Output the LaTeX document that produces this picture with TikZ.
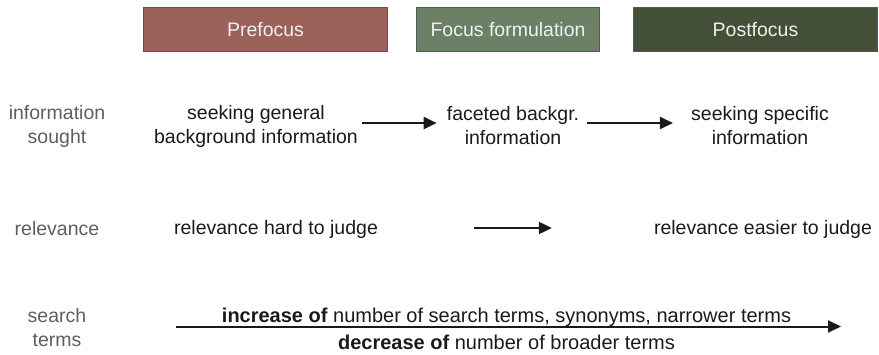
\documentclass[tikz,border=0pt]{standalone}
\usepackage{fontspec}
\setmainfont{Liberation Sans}
\usetikzlibrary{arrows.meta}
\definecolor{preC}{HTML}{9A6259}
\definecolor{focC}{HTML}{6B8065}
\definecolor{postC}{HTML}{434F37}
\definecolor{edgeC}{HTML}{52575E}
\definecolor{labC}{HTML}{5A5F66}
\definecolor{txtC}{HTML}{1A1A1A}
\tikzset{
  phase/.style={draw=edgeC, line width=1.8pt, minimum height=44pt, inner sep=0pt,
    text=white!94!black, font=\fontsize{19.5}{23}\selectfont},
  rowlab/.style={text=labC, align=center, inner sep=0pt, font=\fontsize{19.5}{23.5}\selectfont},
  item/.style={text=txtC, align=center, inner sep=0pt, font=\fontsize{19.5}{24}\selectfont},
  arr/.style={draw=txtC, line width=2pt, -{Triangle[length=13pt,width=12pt]}}
}
\begin{document}
\begin{tikzpicture}[x=1pt,y=-1pt]
\useasboundingbox (0,0) rectangle (879,354);
% phase headers
\node[phase, fill=preC, minimum width=244pt] (pre) at (265.5,29.5) {Prefocus};
\node[phase, fill=focC, minimum width=183pt] (foc) at (508,29.5) {Focus formulation};
\node[phase, fill=postC, minimum width=244pt] (post) at (755.5,29.5) {Postfocus};
% row labels
\node[rowlab] (lab1) at (57,126.5) {information\\sought};
\node[rowlab] (lab2) at (57,229) {relevance};
\node[rowlab] (lab3) at (57,327.5) {search\\terms};
% information sought
\node[item] (gen) at (256,126.5) {seeking general\\background information};
\node[item] (fac) at (513,125.5) {faceted backgr.\\information};
\node[item] (spec) at (760,125.5) {seeking specific\\information};
\draw[arr] ([xshift=4pt,yshift=3.5pt]gen.east) -- ([xshift=-10pt,yshift=2.5pt]fac.west);
\draw[arr] ([xshift=8pt,yshift=2.5pt]fac.east) -- ([xshift=-18pt,yshift=2.5pt]spec.west);
% relevance
\node[item] (rh) at (276,229) {relevance hard to judge};
\node[item] (re) at (763,229) {relevance easier to judge};
\draw[arr, shorten <=96pt, shorten >=102pt] ([yshift=1pt]rh.east) -- ([yshift=1pt]re.west);
% search terms
\coordinate (s0) at (176,326.5);
\coordinate (s1) at (841,326.5);
\draw[arr] (s0) -- (s1);
\node[item, font=\fontsize{20}{24}\selectfont] (inc) at (506.5,317) {\textbf{increase of} number of search terms, synonyms, narrower terms};
\node[item, font=\fontsize{20}{24}\selectfont] (dec) at (506.5,342) {\textbf{decrease of} number of broader terms};
\end{tikzpicture}
\end{document}
